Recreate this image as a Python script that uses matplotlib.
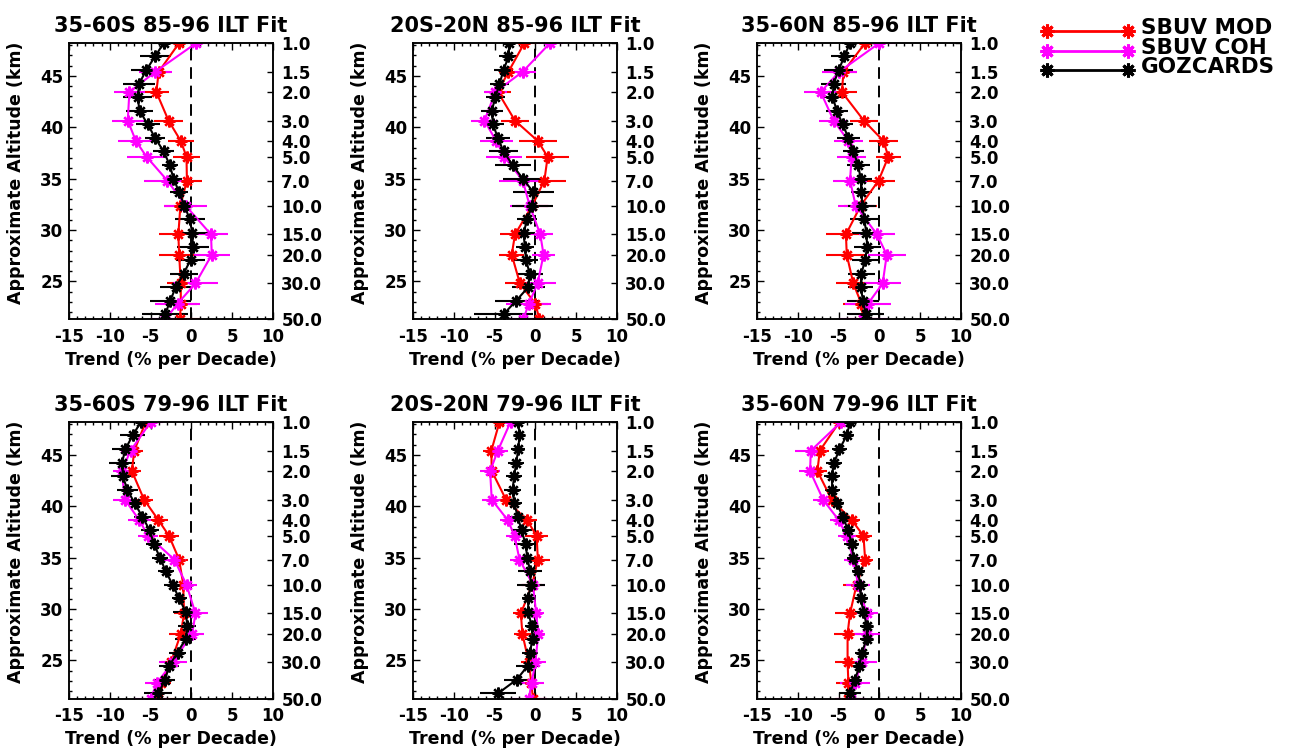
#
# Ozone trend profiles: SBUV MOD, SBUV COH and GOZCARDS, ILT fits
#
import numpy as np
import matplotlib
matplotlib.use('Agg')
import matplotlib.pyplot as plt
from matplotlib.ticker import MultipleLocator

plt.rcParams['font.family'] = 'DejaVu Sans'
plt.rcParams['font.weight'] = 'bold'
plt.rcParams['axes.unicode_minus'] = False

#
# Pressure levels [hPa]
#
p_sbuv   = [1.0, 1.5, 2.0, 3.0, 4.0, 5.0, 7.0, 10.0, 15.0, 20.0, 30.0, 40.0, 50.0]
p_goz    = [1.0, 1.21, 1.47, 1.78, 2.15, 2.61, 3.16, 3.83, 4.64, 5.62, 6.81,
            8.25, 10.0, 12.1, 14.7, 17.8, 21.5, 26.1, 31.6, 38.3, 46.4]
p_labels = [1.0, 1.5, 2.0, 3.0, 4.0, 5.0, 7.0, 10.0, 15.0, 20.0, 30.0, 50.0]

titles = ['35-60S 85-96 ILT Fit', '20S-20N 85-96 ILT Fit', '35-60N 85-96 ILT Fit',
          '35-60S 79-96 ILT Fit', '20S-20N 79-96 ILT Fit', '35-60N 79-96 ILT Fit']

#
# Trends [% per decade] and errors, top (1 hPa) to bottom
#
# 35-60S 85-96
mod_1     = [-1.5, -4.0, -4.3, -2.8, -1.3, -0.6, -0.55, -1.35, -1.6, -1.5, -1.3, -1.3, -1.4]
mod_err_1 = [1.1, 1.4, 1.5, 1.8, 1.6, 1.7, 1.8, 2.0, 2.4, 2.5, 1.7, 2.0, 2.5]
coh_1     = [0.6, -4.4, -7.6, -7.8, -6.8, -5.5, -2.95, -0.7, 2.4, 2.5, 0.5, -1.7, -3.2]
coh_err_1 = [1.8, 2.0, 1.9, 1.95, 2.2, 2.45, 2.8, 2.6, 2.05, 2.2, 2.7, 2.8, 1.8]
goz_1     = [-3.4, -4.45, -5.55, -6.4, -6.6, -6.35, -5.35, -4.45, -3.4, -2.65, -2.2,
             -1.5, -0.85, -0.2, 0.1, 0.2, -0.1, -0.95, -1.9, -2.6, -3.2]
goz_err_1 = [1.3, 1.9, 1.9, 2.0, 1.8, 1.7, 1.5, 1.2, 1.3, 1.0, 1.0,
             1.1, 0.9, 1.85, 1.95, 2.0, 1.8, 1.7, 2.0, 2.5, 2.8]
# 20S-20N 85-96
mod_2     = [-1.35, -3.3, -4.6, -2.5, 0.3, 1.5, 1.1, -0.4, -2.5, -2.9, -1.9, 0.0, 0.5]
mod_err_2 = [1.4, 1.2, 1.6, 1.75, 2.3, 2.65, 2.7, 2.0, 1.85, 1.5, 1.8, 1.5, 2.6]
coh_2     = [1.8, -1.55, -4.9, -6.25, -4.8, -3.8, -1.55, -0.7, 0.6, 1.0, 0.27, -0.8, -1.5]
coh_err_2 = [1.6, 1.6, 1.4, 1.7, 2.0, 2.2, 2.9, 2.4, 1.55, 1.45, 2.2, 2.75, 2.8]
goz_2     = [-3.2, -3.3, -3.9, -4.4, -4.9, -5.35, -5.2, -4.6, -3.9, -2.8, -1.55,
             -0.25, -0.4, -1.0, -1.45, -1.3, -1.15, -0.7, -0.87, -2.35, -3.9]
goz_err_2 = [0.8, 1.1, 1.2, 1.2, 1.2, 1.35, 1.4, 1.5, 1.8, 2.2, 2.4,
             2.5, 2.5, 1.2, 1.4, 1.1, 1.5, 1.6, 2.0, 2.65, 3.6]
# 35-60N 85-96
mod_3     = [-1.75, -4.4, -4.6, -1.9, 0.5, 1.1, -0.1, -2.3, -4.1, -4.0, -3.2, -2.2, -2.0]
mod_err_3 = [1.2, 1.7, 1.8, 1.75, 1.75, 1.5, 2.0, 2.0, 2.5, 2.5, 2.1, 2.25, 2.0]
coh_3     = [0.0, -4.9, -7.2, -5.6, -3.8, -3.4, -3.6, -2.9, -0.3, 0.9, 0.4, -1.4, -2.0]
coh_err_3 = [1.9, 2.1, 2.0, 1.75, 1.75, 1.75, 2.1, 2.2, 2.2, 2.3, 2.25, 2.8, 2.9]
goz_3     = [-3.6, -4.3, -5.0, -5.6, -5.75, -5.2, -4.5, -3.8, -3.2, -2.6, -2.3,
             -2.2, -2.1, -1.85, -1.6, -1.5, -1.75, -2.2, -2.3, -2.0, -1.7]
goz_err_3 = [1.0, 1.6, 1.8, 1.5, 1.5, 1.3, 1.3, 1.4, 1.3, 1.4, 1.4,
             1.3, 1.7, 1.75, 1.75, 1.65, 1.65, 1.6, 1.5, 2.0, 2.3]
# 35-60S 79-96
mod_4     = [-5.6, -7.0, -7.3, -5.8, -4.05, -2.75, -1.5, -1.0, -0.9, -1.3, -2.5, -3.75, -4.05]
mod_err_4 = [1.2, 1.1, 1.1, 1.1, 1.2, 1.2, 1.1, 1.0, 1.2, 1.4, 1.2, 1.2, 2.0]
coh_4     = [-5.0, -7.45, -8.55, -8.15, -6.4, -5.3, -2.1, -0.6, 0.5, 0.1, -2.3, -4.2, -5.0]
coh_err_4 = [1.5, 1.2, 1.1, 1.4, 1.4, 1.2, 1.4, 1.3, 1.5, 1.4, 1.7, 1.5, 2.0]
goz_4     = [-6.2, -7.2, -8.1, -8.5, -8.4, -7.85, -6.95, -6.0, -5.1, -4.6, -3.85,
             -3.15, -2.3, -1.5, -0.7, -0.5, -0.7, -1.7, -2.75, -3.2, -4.05]
goz_err_4 = [1.3, 1.5, 1.6, 1.6, 1.5, 1.3, 1.1, 1.0, 1.1, 1.0, 1.0,
             1.0, 1.0, 0.9, 1.5, 1.1, 1.3, 1.0, 1.2, 1.2, 1.7]
# 20S-20N 79-96
mod_5     = [-4.4, -5.4, -5.35, -3.6, -1.05, 0.15, 0.3, -0.4, -1.78, -1.6, -0.8, -0.5, -0.3]
mod_err_5 = [0.9, 1.0, 1.0, 0.8, 1.2, 1.4, 1.5, 1.2, 1.0, 1.0, 1.0, 1.0, 1.7]
coh_5     = [-3.05, -4.6, -5.55, -5.35, -3.4, -2.55, -1.95, -0.3, 0.1, 0.35, 0.0, -0.47, -0.8]
coh_err_5 = [1.0, 1.2, 1.2, 1.2, 0.9, 1.1, 1.2, 1.5, 1.0, 0.8, 1.3, 1.5, 2.2]
goz_5     = [-2.1, -1.95, -2.1, -2.35, -2.6, -2.8, -2.6, -2.15, -1.7, -1.2, -1.0,
             -0.65, -0.55, -0.88, -0.88, -0.47, -0.35, -0.67, -0.96, -2.3, -4.55]
goz_err_5 = [1.0, 0.7, 0.85, 1.0, 1.0, 1.0, 1.0, 1.05, 1.3, 1.4, 1.3,
             1.45, 1.7, 0.8, 0.9, 0.8, 0.9, 1.0, 1.4, 1.6, 2.2]
# 35-60N 79-96
mod_6     = [-4.9, -7.3, -7.6, -5.85, -3.4, -1.95, -1.75, -2.8, -3.6, -3.9, -3.9, -3.8, -3.9]
mod_err_6 = [1.0, 1.1, 1.2, 1.0, 1.0, 1.0, 1.0, 1.6, 1.8, 1.7, 1.5, 1.5, 1.6]
coh_6     = [-4.7, -8.4, -8.5, -6.9, -5.0, -4.0, -3.2, -2.6, -1.55, -1.55, -2.15, -3.0, -3.5]
coh_err_6 = [1.4, 2.0, 1.4, 1.2, 1.0, 1.1, 1.1, 1.5, 1.4, 1.6, 1.8, 1.8, 1.8]
goz_6     = [-3.6, -4.0, -4.9, -5.55, -5.85, -5.75, -5.2, -4.5, -3.8, -3.4, -3.2,
             -2.6, -2.35, -2.3, -1.95, -1.55, -1.55, -2.15, -2.45, -3.0, -3.6]
goz_err_6 = [0.9, 0.9, 0.9, 1.0, 1.0, 0.9, 0.85, 0.75, 0.8, 0.9, 0.8,
             0.8, 1.0, 0.9, 1.0, 0.8, 0.8, 0.9, 0.9, 0.9, 1.4]

panels = [(mod_1, mod_err_1, coh_1, coh_err_1, goz_1, goz_err_1),
          (mod_2, mod_err_2, coh_2, coh_err_2, goz_2, goz_err_2),
          (mod_3, mod_err_3, coh_3, coh_err_3, goz_3, goz_err_3),
          (mod_4, mod_err_4, coh_4, coh_err_4, goz_4, goz_err_4),
          (mod_5, mod_err_5, coh_5, coh_err_5, goz_5, goz_err_5),
          (mod_6, mod_err_6, coh_6, coh_err_6, goz_6, goz_err_6)]

names  = ['SBUV MOD', 'SBUV COH', 'GOZCARDS']
colors = ['#ff0000', '#ff00ff', 'k']

#
# Approximate altitude from pressure
#
z1 = 48.2
hs = 6.88
def alt(p):
    return z1 - hs*np.log(np.asarray(p))

#
# Layout (pixels)
#
W, H   = 1289, 751
lefts  = [69, 413, 757]
tops   = [43, 422]
aw, ah = 204, 276.5

star = (8, 2, 0)

fig = plt.figure(figsize=(W/100, H/100), dpi=100)

for k in range(6):
    row, col = divmod(k, 3)
    ax = fig.add_axes([lefts[col]/W, 1 - (tops[row]+ah)/H, aw/W, ah/H])
    mod, mod_err, coh, coh_err, goz, goz_err = panels[k]

    ax.axvline(0, color='k', lw=1.4, ls=(0, (6, 3.5)), zorder=1)
    for x, e, p, c in [(mod, mod_err, p_sbuv, colors[0]),
                       (coh, coh_err, p_sbuv, colors[1]),
                       (goz, goz_err, p_goz, colors[2])]:
        ax.errorbar(x, alt(p), xerr=e, color=c, lw=1.5, elinewidth=1.5,
                    capsize=0, marker=star, ms=8.5, mew=1.7, zorder=2)

    ax.set_xlim(-15, 10)
    ax.set_ylim(alt(50.0), alt(1.0))
    ax.set_xticks([-15, -10, -5, 0, 5, 10])
    ax.set_yticks([25, 30, 35, 40, 45])
    ax.xaxis.set_minor_locator(MultipleLocator(1))
    ax.yaxis.set_minor_locator(MultipleLocator(1))
    ax.tick_params(which='both', direction='in', top=True, right=False, width=1.0)
    ax.tick_params(which='major', length=5)
    ax.tick_params(which='minor', length=2.5)
    ax.tick_params(axis='x', which='major', labelsize=12, pad=6)
    ax.tick_params(axis='y', which='major', labelsize=12, pad=4)
    for s in ax.spines.values():
        s.set_linewidth(1.1)

    ax.set_title(titles[k], fontsize=15, fontweight='bold', pad=8)
    ax.set_xlabel('Trend (% per Decade)', fontsize=12.5, fontweight='bold', labelpad=4)
    ax.set_ylabel('Approximate Altitude (km)', fontsize=12.5, fontweight='bold')
    ax.yaxis.set_label_coords(-0.215, 0.53)

    rax = ax.twinx()
    rax.set_ylim(ax.get_ylim())
    rax.set_yticks(alt(p_labels))
    rax.set_yticklabels(['%.1f' % p for p in p_labels])
    rax.tick_params(axis='y', direction='in', length=4, width=1.0, labelsize=12, pad=6)
    for s in rax.spines.values():
        s.set_linewidth(1.1)

#
# Legend at top right
#
lax = fig.add_axes([0, 0, 1, 1])
lax.set_xlim(0, W)
lax.set_ylim(H, 0)
lax.axis('off')
for i, (name, c) in enumerate(zip(names, colors)):
    y = 31 + 19.5*i
    lax.plot([1047, 1128], [y, y], color=c, lw=2, marker=star, ms=10, mew=2.2)
    lax.text(1141, y - 3, name, fontsize=15.5, fontweight='bold', va='center', ha='left')

fig.savefig('out.png', dpi=100)
